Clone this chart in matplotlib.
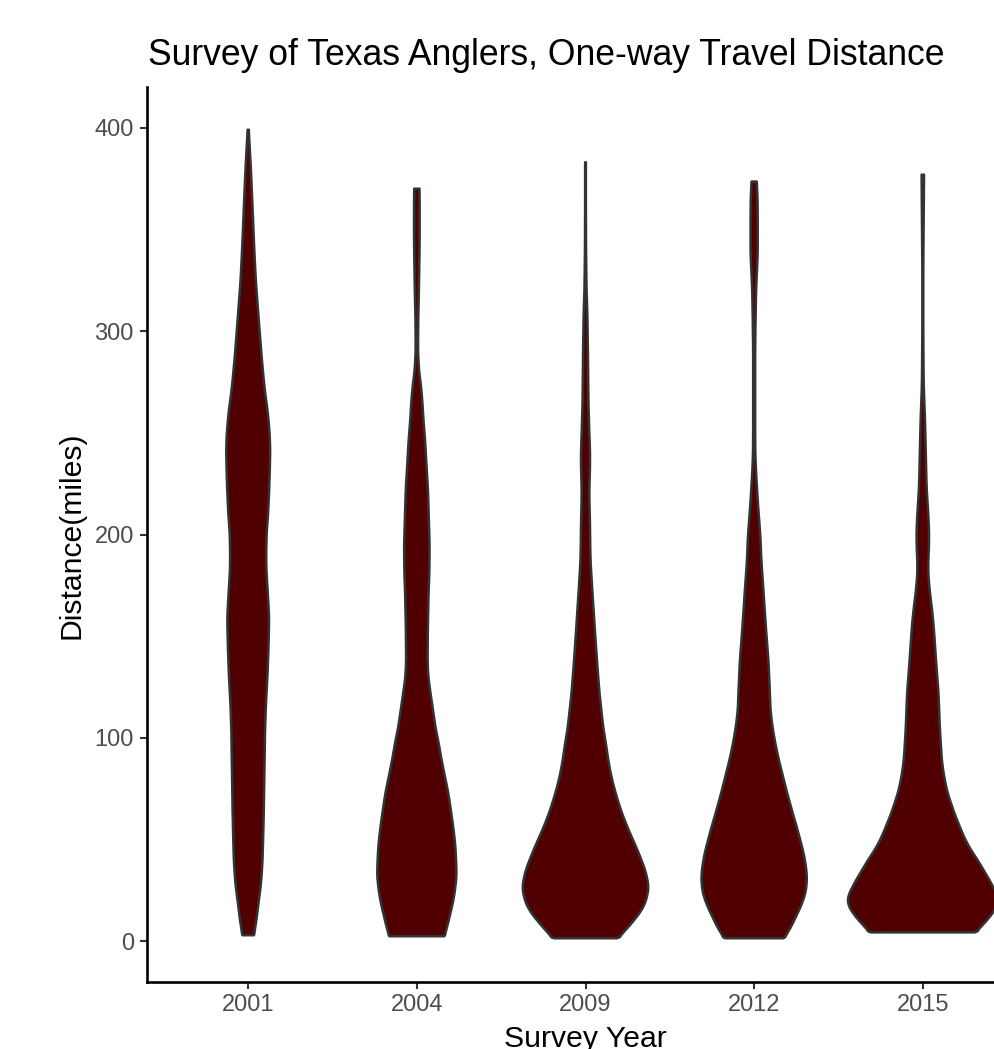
import numpy as np
import matplotlib
matplotlib.use("Agg")
import matplotlib.pyplot as plt

plt.rcParams["font.family"] = ["Liberation Sans", "DejaVu Sans"]

# Survey years (one violin each)
years = ["2001", "2004", "2009", "2012", "2015"]

# Kernel density profiles of one-way travel distance (miles), scaled so the
# largest density across all years equals 1 (equal-area violins).
dist_2001 = [3, 10, 19, 28, 39, 52, 65, 78, 91, 104, 117, 130, 144, 159, 170,
             182, 190, 201, 210, 222, 232, 242, 250, 260, 272, 286, 305, 325,
             340, 360, 380, 399]
dens_2001 = [0.075, 0.107, 0.136, 0.168, 0.188, 0.198, 0.206, 0.211, 0.217,
             0.222, 0.234, 0.253, 0.267, 0.276, 0.26, 0.24, 0.237, 0.243,
             0.262, 0.276, 0.285, 0.29, 0.282, 0.258, 0.215, 0.18, 0.14, 0.10,
             0.08, 0.058, 0.035, 0.007]

dist_2004 = [2.5, 7, 12, 18, 23.5, 32, 40, 48, 56, 64, 73, 81, 89, 97, 105,
             113, 122, 130, 138, 154, 171, 182, 195, 207, 215, 223, 232, 240,
             248, 256, 264, 272, 280, 289, 295, 305, 315, 325, 335, 346, 360,
             370]
dens_2004 = [0.36, 0.40, 0.43, 0.47, 0.497, 0.524, 0.517, 0.505, 0.48, 0.45,
             0.414, 0.37, 0.326, 0.29, 0.246, 0.215, 0.18, 0.15, 0.141, 0.145,
             0.154, 0.165, 0.168, 0.158, 0.152, 0.145, 0.13, 0.118, 0.105,
             0.087, 0.075, 0.058, 0.03, 0.016, 0.016, 0.018, 0.024, 0.029,
             0.033, 0.037, 0.037, 0.035]

dist_2009 = [1.5, 5, 10, 14, 18.5, 26.5, 35, 45, 56, 64, 73, 81, 89, 97, 105,
             122, 138, 154, 171, 187, 195, 207, 215, 223, 231, 240, 250, 264,
             289, 309, 321, 340, 360, 383]
dens_2009 = [0.414, 0.52, 0.632, 0.72, 0.789, 0.838, 0.789, 0.684, 0.553, 0.47,
             0.395, 0.34, 0.30, 0.27, 0.234, 0.184, 0.151, 0.122, 0.092, 0.066,
             0.062, 0.058, 0.052, 0.05, 0.058, 0.06, 0.05, 0.039, 0.032,
             0.024, 0.013, 0.007, 0.005, 0.005]

dist_2012 = [1.5, 5, 10, 18.5, 24, 30, 35, 43, 56, 64, 73, 81, 89, 97, 105,
             113.5, 122, 138, 154, 171, 187, 199, 215, 231, 240, 250, 270, 290,
             305, 321, 338, 354, 365, 373.5]
dens_2012 = [0.382, 0.46, 0.524, 0.632, 0.68, 0.697, 0.69, 0.655, 0.563, 0.50,
             0.434, 0.38, 0.326, 0.28, 0.243, 0.215, 0.207, 0.188, 0.155,
             0.125, 0.095, 0.082, 0.05, 0.024, 0.015, 0.013, 0.013, 0.013,
             0.018, 0.026, 0.047, 0.047, 0.045, 0.034]

dist_2015 = [4.4, 9, 13.8, 17, 21.6, 25, 30, 35, 40, 45, 51, 57, 63, 73, 81,
             89, 105, 122, 138, 154, 162, 171, 180, 187, 195, 202, 210, 223,
             240, 256, 272, 280, 300, 330, 354, 377]
dens_2015 = [0.684, 0.82, 0.92, 0.985, 1.0, 0.95, 0.882, 0.80, 0.724, 0.63,
             0.546, 0.48, 0.415, 0.326, 0.28, 0.25, 0.224, 0.207, 0.174, 0.145,
             0.125, 0.095, 0.072, 0.072, 0.082, 0.082, 0.072, 0.05, 0.039,
             0.029, 0.013, 0.01, 0.006, 0.006, 0.011, 0.016]

profiles = [(dist_2001, dens_2001), (dist_2004, dens_2004),
            (dist_2009, dens_2009), (dist_2012, dens_2012),
            (dist_2015, dens_2015)]

title = "Survey of Texas Anglers, One-way Travel Distance"
xlabel = "Survey Year"
ylabel = "Distance(miles)"
yticks = [0, 100, 200, 300, 400]

FILL = "#500000"
EDGE = "#333333"
MAX_HALF = 0.45  # half of the 0.9 violin width


def smooth_profile(d, w, step=0.5, sigma=2.5):
    d = np.asarray(d, float)
    w = np.asarray(w, float)
    grid = np.arange(d[0], d[-1] + step / 2, step)
    vals = np.interp(grid, d, w)
    k = int(3 * sigma / step)
    xs = np.arange(-k, k + 1) * step
    ker = np.exp(-0.5 * (xs / sigma) ** 2)
    ker /= ker.sum()
    padded = np.concatenate([np.full(k, vals[0]), vals, np.full(k, vals[-1])])
    sm = np.convolve(padded, ker, mode="valid")
    sm[0], sm[-1] = vals[0], vals[-1]
    return grid, sm


fig = plt.figure(figsize=(9.94, 10.49), dpi=100)
ax = fig.add_axes([147 / 994, 1 - 982 / 1049, 877 / 994, 895 / 1049])

for i, (d, w) in enumerate(profiles, start=1):
    y, dens = smooth_profile(d, w)
    half = MAX_HALF * dens
    xs = np.concatenate([i + half, (i - half)[::-1]])
    ys = np.concatenate([y, y[::-1]])
    ax.fill(xs, ys, facecolor=FILL, edgecolor=EDGE, linewidth=1.8,
            joinstyle="round", zorder=2)

ax.set_xlim(0.4, 5.6)
ax.set_ylim(-20, 420)
ax.set_xticks(range(1, len(years) + 1))
ax.set_xticklabels(years)
ax.set_yticks(yticks)

for side in ("top", "right"):
    ax.spines[side].set_visible(False)
for side in ("left", "bottom"):
    ax.spines[side].set_color("black")
    ax.spines[side].set_linewidth(1.9)
    ax.spines[side].set_capstyle("projecting")

ax.tick_params(axis="both", length=5, width=1.5, color="#333333",
               labelsize=17, labelcolor="#4d4d4d")
ax.tick_params(axis="x", pad=3.5)
ax.tick_params(axis="y", pad=4.5)

fig.text(148 / 994, 1 - 65 / 1049, title, fontsize=25.6, color="black",
         ha="left", va="baseline")
fig.text(585 / 994, 1 - 1047 / 1049, xlabel, fontsize=21.7, color="black",
         ha="center", va="baseline")
fig.text(72 / 994, 1 - 535 / 1049, ylabel, fontsize=21.7, color="black",
         ha="center", va="center", rotation=90)

fig.savefig("out.png", dpi=100, facecolor="white")
